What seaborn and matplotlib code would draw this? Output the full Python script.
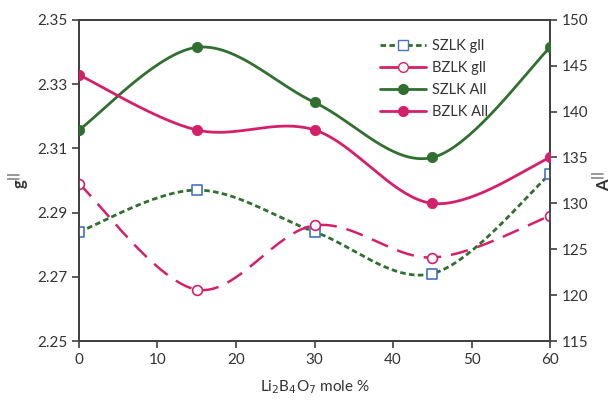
import numpy as np
import pandas as pd
import matplotlib
matplotlib.use("Agg")
import matplotlib.pyplot as plt
from matplotlib.lines import Line2D
import seaborn as sns

x_vals = [0, 15, 30, 45, 60]
szlk_g = [2.284, 2.297, 2.284, 2.271, 2.302]
bzlk_g = [2.299, 2.266, 2.286, 2.276, 2.289]
szlk_a = [138, 147, 141, 135, 147]
bzlk_a = [144, 138, 138, 130, 135]
x_ticks = [0, 10, 20, 30, 40, 50, 60]
g_ticks = [2.25, 2.27, 2.29, 2.31, 2.33, 2.35]
a_ticks = [115, 120, 125, 130, 135, 140, 145, 150]

GREEN = "#2F6F2F"
PINK = "#D4206A"
BLUE = "#4472C4"
AX = "#404040"

sns.set_style("ticks")
plt.rcParams["font.family"] = ["Lato", "DejaVu Sans"]


def smooth(xs, ys, n=40):
    # Catmull-Rom style smoothing (as in the spreadsheet's smoothed lines)
    xs = np.asarray(xs, float)
    ys = np.asarray(ys, float)
    px = np.concatenate([[xs[0]], xs, [xs[-1]]])
    py = np.concatenate([[ys[0]], ys, [ys[-1]]])
    ox, oy = [], []
    t = np.linspace(0, 1, n)
    for i in range(1, len(px) - 2):
        p0x, p1x, p2x, p3x = px[i - 1], px[i], px[i + 1], px[i + 2]
        p0y, p1y, p2y, p3y = py[i - 1], py[i], py[i + 1], py[i + 2]
        c1x, c1y = p1x + (p2x - p0x) / 6, p1y + (p2y - p0y) / 6
        c2x, c2y = p2x - (p3x - p1x) / 6, p2y - (p3y - p1y) / 6
        bx = (1 - t) ** 3 * p1x + 3 * (1 - t) ** 2 * t * c1x + 3 * (1 - t) * t ** 2 * c2x + t ** 3 * p2x
        by = (1 - t) ** 3 * p1y + 3 * (1 - t) ** 2 * t * c1y + 3 * (1 - t) * t ** 2 * c2y + t ** 3 * p2y
        ox.extend(bx if i == 1 else bx[1:])
        oy.extend(by if i == 1 else by[1:])
    return pd.DataFrame({"x": ox, "y": oy})


fig = plt.figure(figsize=(6.12, 4.05), dpi=100)
ax = fig.add_axes([0.129, 0.158, 0.770, 0.793])
ax2 = ax.twinx()

# left axis: g
d = smooth(x_vals, szlk_g)
sns.lineplot(data=d, x="x", y="y", ax=ax, color=GREEN, lw=2, sort=False,
             linestyle=(0, (2, 1.2)), estimator=None)
d = smooth(x_vals, bzlk_g)
sns.lineplot(data=d, x="x", y="y", ax=ax, color=PINK, lw=1.8, sort=False,
             linestyle=(0, (7, 4)), estimator=None)
sns.scatterplot(x=x_vals, y=szlk_g, ax=ax, marker="s", s=45, facecolor="white",
                edgecolor=BLUE, linewidth=1.2, zorder=5)
sns.scatterplot(x=x_vals, y=bzlk_g, ax=ax, marker="o", s=50, facecolor="white",
                edgecolor=PINK, linewidth=1.2, zorder=5)

# right axis: A
d = smooth(x_vals, szlk_a)
sns.lineplot(data=d, x="x", y="y", ax=ax2, color=GREEN, lw=2, sort=False, estimator=None)
d = smooth(x_vals, bzlk_a)
sns.lineplot(data=d, x="x", y="y", ax=ax2, color=PINK, lw=2, sort=False, estimator=None)
sns.scatterplot(x=x_vals, y=szlk_a, ax=ax2, marker="o", s=55, color=GREEN,
                edgecolor=GREEN, zorder=5)
sns.scatterplot(x=x_vals, y=bzlk_a, ax=ax2, marker="o", s=55, color=PINK,
                edgecolor=PINK, zorder=5)

ax.set_xlim(0, 60)
ax.set_ylim(2.25, 2.35)
ax2.set_ylim(115, 150)
ax.set_xticks(x_ticks)
ax.set_xticklabels([str(v) for v in x_ticks])
ax.set_yticks(g_ticks)
ax.set_yticklabels([f"{v:.2f}" for v in g_ticks])
ax2.set_yticks(a_ticks)
ax2.set_yticklabels([str(v) for v in a_ticks])

for a in (ax, ax2):
    for s in a.spines.values():
        s.set_visible(True)
        s.set_color(AX)
        s.set_linewidth(1.3)
    a.tick_params(colors=AX, labelcolor="#333333", labelsize=11, width=1.2,
                  length=5, direction="out")
    a.set_xlabel("")
    a.set_ylabel("")

ax.set_xlabel("Li$_2$B$_4$O$_7$ mole %", fontsize=11, color="#333333", labelpad=8)
ax.set_ylabel("g$^{||}$", fontsize=12, fontweight="bold", color="#333333", labelpad=4)
ax2.set_ylabel("A$^{||}$", fontsize=12, fontweight="bold", color="#333333", labelpad=2)

handles = [
    Line2D([], [], color=GREEN, lw=2, linestyle=(0, (2, 1.2)), marker="s",
           markerfacecolor="white", markeredgecolor=BLUE, markersize=6.5),
    Line2D([], [], color=PINK, lw=2, marker="o", markerfacecolor="white",
           markeredgecolor=PINK, markersize=7),
    Line2D([], [], color=GREEN, lw=2, marker="o", markersize=7),
    Line2D([], [], color=PINK, lw=2, marker="o", markersize=7),
]
labels = ["SZLK gll", "BZLK gll", "SZLK All", "BZLK All"]
ax2.legend(handles, labels, loc="upper left", bbox_to_anchor=(0.61, 0.98),
           frameon=False, fontsize=10.5, handlelength=3.2, labelspacing=0.55,
           handletextpad=0.4, labelcolor="#333333")

fig.savefig("out.png", dpi=100)
